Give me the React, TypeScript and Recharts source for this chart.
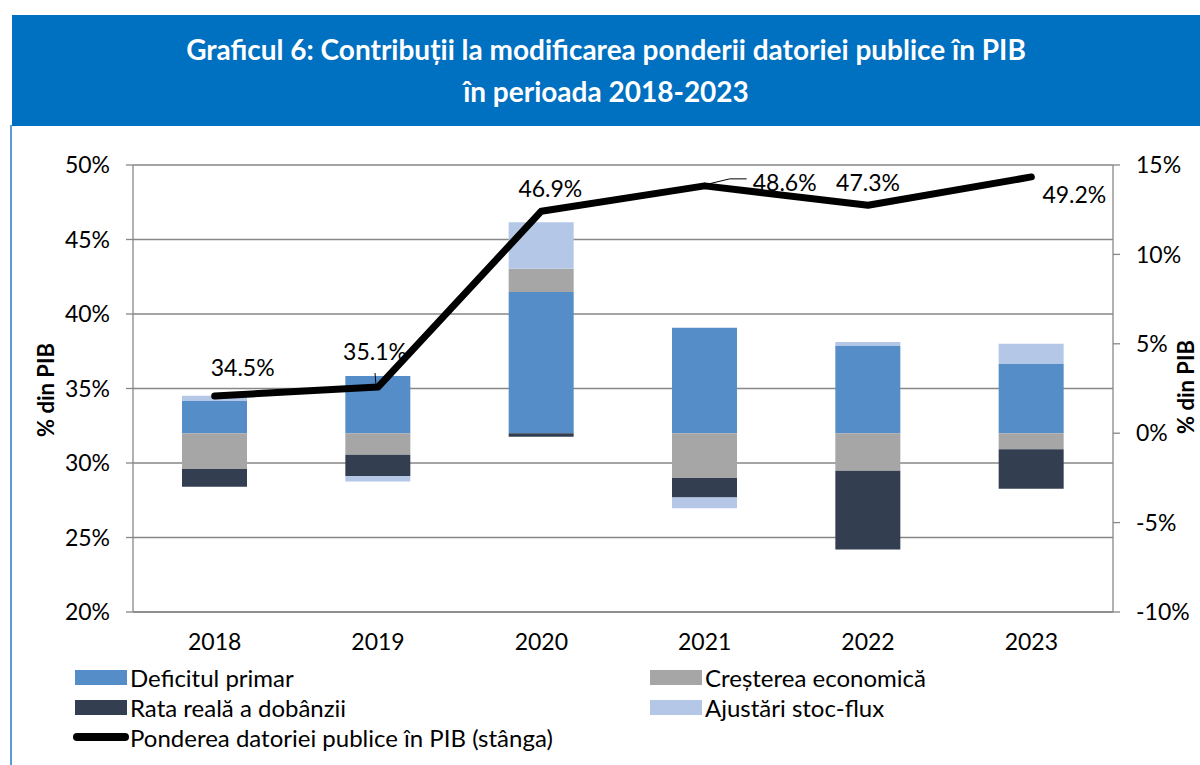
import React from 'react'
import {
  ComposedChart, Bar, Line, LabelList,
  XAxis, YAxis, CartesianGrid,
} from 'recharts'

// ── Date ─────────────────────────────────────────────────────────────────────

const YEARS = ['2018', '2019', '2020', '2021', '2022', '2023']

// contributii, % din PIB (axa dreapta)
const DEFICIT = [1.8, 3.2, 7.9, 5.9, 4.9, 3.9]
const GROWTH = [-2.0, -1.2, 1.3, -2.5, -2.1, -0.9]
const INTEREST = [-1.0, -1.2, -0.2, -1.1, -4.4, -2.2]
const STOCK_FLOW = [0.3, -0.3, 2.6, -0.6, 0.2, 1.1]

// ponderea datoriei publice in PIB (axa stanga)
const DEBT = [34.5, 35.1, 46.9, 48.6, 47.3, 49.2]

const LEFT_TICKS = [20, 25, 30, 35, 40, 45, 50]
const RIGHT_TICKS = [-10, -5, 0, 5, 10, 15]

const C_DEFICIT = '#558DC8'
const C_GROWTH = '#A6A6A6'
const C_INTEREST = '#333F50'
const C_STOCK = '#B4C7E7'
const C_AXIS = '#878787'

const FONT = 'Lato, "Noto Sans", sans-serif'
const TICK_FONT = { fontSize: 23, fill: '#000', fontFamily: FONT }

const rows = YEARS.map((year, i) => ({
  year,
  deficit: DEFICIT[i],
  growth: GROWTH[i],
  interest: INTEREST[i],
  stock: STOCK_FLOW[i],
  debt: DEBT[i],
}))

// pozitia etichetelor fata de punct (dx, dy) + linii de legatura
const LABEL_OFFSETS: [number, number][] = [
  [28, -29], [-3, -36], [9, -23], [80, -4], [0, -23], [43, 17],
]

function DebtLabel(props: any) {
  const { x, y, value, index } = props
  const [dx, dy] = LABEL_OFFSETS[index] ?? [0, -20]
  const cx = x + dx
  const cy = y + dy
  return (
    <g>
      {index === 1 && (
        <line x1={x - 3} y1={y - 14} x2={x - 2} y2={y - 2} stroke="#000" strokeWidth={1} />
      )}
      {index === 3 && (
        <polyline points={`${x},${y - 1} ${x + 25},${y - 7} ${x + 42},${y - 7}`}
          fill="none" stroke="#000" strokeWidth={1} />
      )}
      <text x={cx} y={cy} textAnchor="middle" dominantBaseline="central"
        fontSize={23} fontFamily={FONT} fill="#000">
        {`${Number(value).toFixed(1)}%`}
      </text>
    </g>
  )
}

function LegendItem({ color, label, line }: { color: string; label: string; line?: boolean }) {
  return (
    <div style={{ display: 'flex', alignItems: 'center', height: 30 }}>
      {line ? (
        <div style={{ width: 56, height: 8, borderRadius: 4, background: '#000', marginRight: 1, marginLeft: -2 }} />
      ) : (
        <div style={{ width: 52, height: 15, background: color, marginRight: 3 }} />
      )}
      <span>{label}</span>
    </div>
  )
}

export default function App() {
  return (
    <div style={{
      position: 'absolute', left: 0, top: 0, width: 1200, height: 765,
      background: '#fff', overflow: 'hidden', fontFamily: FONT, color: '#000',
    }}>
      {/* chenar + titlu */}
      <div style={{ position: 'absolute', left: 10, top: 125, width: 2, height: 640, background: '#5B9BD5' }} />
      <div style={{
        position: 'absolute', left: 12, top: 15, width: 1188, height: 111,
        background: '#0070C0', color: '#fff', fontWeight: 700, fontSize: 28,
        textAlign: 'center', lineHeight: '42px', paddingTop: 13, boxSizing: 'border-box',
      }}>
        <div>Graficul 6: Contribuții la modificarea ponderii datoriei publice în PIB</div>
        <div>în perioada 2018-2023</div>
      </div>

      <ComposedChart
        width={1200}
        height={680}
        data={rows}
        stackOffset="sign"
        barSize={65}
        margin={{ top: 165, right: 0, bottom: 0, left: 0 }}
        style={{ position: 'absolute', left: 0, top: 0 }}
      >
        <CartesianGrid yAxisId="left" vertical={false} stroke={C_AXIS} strokeWidth={1.3} />
        <XAxis dataKey="year" height={68} tickLine={false} tickSize={0} tickMargin={22}
          axisLine={{ stroke: C_AXIS, strokeWidth: 1.3 }}
          tick={TICK_FONT} />
        <YAxis yAxisId="left" orientation="left" width={133} domain={[20, 50]} ticks={LEFT_TICKS}
          tickFormatter={(v) => `${v}%`} tickSize={7} tickMargin={16}
          axisLine={{ stroke: C_AXIS, strokeWidth: 1.3 }} tickLine={{ stroke: C_AXIS, strokeWidth: 1.3 }}
          tick={TICK_FONT} />
        <YAxis yAxisId="right" orientation="right" width={87} domain={[-10, 15]} ticks={RIGHT_TICKS}
          tickFormatter={(v) => `${v}%`} tickSize={7} tickMargin={16}
          axisLine={{ stroke: C_AXIS, strokeWidth: 1.3 }} tickLine={{ stroke: C_AXIS, strokeWidth: 1.3 }}
          tick={TICK_FONT} />

        <Bar yAxisId="right" dataKey="deficit" stackId="a" fill={C_DEFICIT} isAnimationActive={false} />
        <Bar yAxisId="right" dataKey="growth" stackId="a" fill={C_GROWTH} isAnimationActive={false} />
        <Bar yAxisId="right" dataKey="interest" stackId="a" fill={C_INTEREST} isAnimationActive={false} />
        <Bar yAxisId="right" dataKey="stock" stackId="a" fill={C_STOCK} isAnimationActive={false} />

        <Line yAxisId="left" dataKey="debt" type="linear" stroke="#000" strokeWidth={7}
          strokeLinecap="round" strokeLinejoin="round" dot={false} activeDot={false}
          isAnimationActive={false}>
          <LabelList dataKey="debt" content={DebtLabel} />
        </Line>
      </ComposedChart>

      {/* titluri axe */}
      <div style={{
        position: 'absolute', left: 45, top: 390, transform: 'translate(-50%, -50%) rotate(-90deg)',
        fontWeight: 700, fontSize: 22, whiteSpace: 'nowrap',
      }}>% din PIB</div>
      <div style={{
        position: 'absolute', left: 1185, top: 387, transform: 'translate(-50%, -50%) rotate(-90deg)',
        fontWeight: 700, fontSize: 22, whiteSpace: 'nowrap',
      }}>% din PIB</div>

      {/* legenda */}
      <div style={{ position: 'absolute', left: 75, top: 662, fontSize: 24 }}>
        <LegendItem color={C_DEFICIT} label="Deficitul primar" />
        <LegendItem color={C_INTEREST} label="Rata reală a dobânzii" />
        <LegendItem color="#000" label="Ponderea datoriei publice în PIB (stânga)" line />
      </div>
      <div style={{ position: 'absolute', left: 650, top: 662, fontSize: 24 }}>
        <LegendItem color={C_GROWTH} label="Creșterea economică" />
        <LegendItem color={C_STOCK} label="Ajustări stoc-flux" />
      </div>
    </div>
  )
}
